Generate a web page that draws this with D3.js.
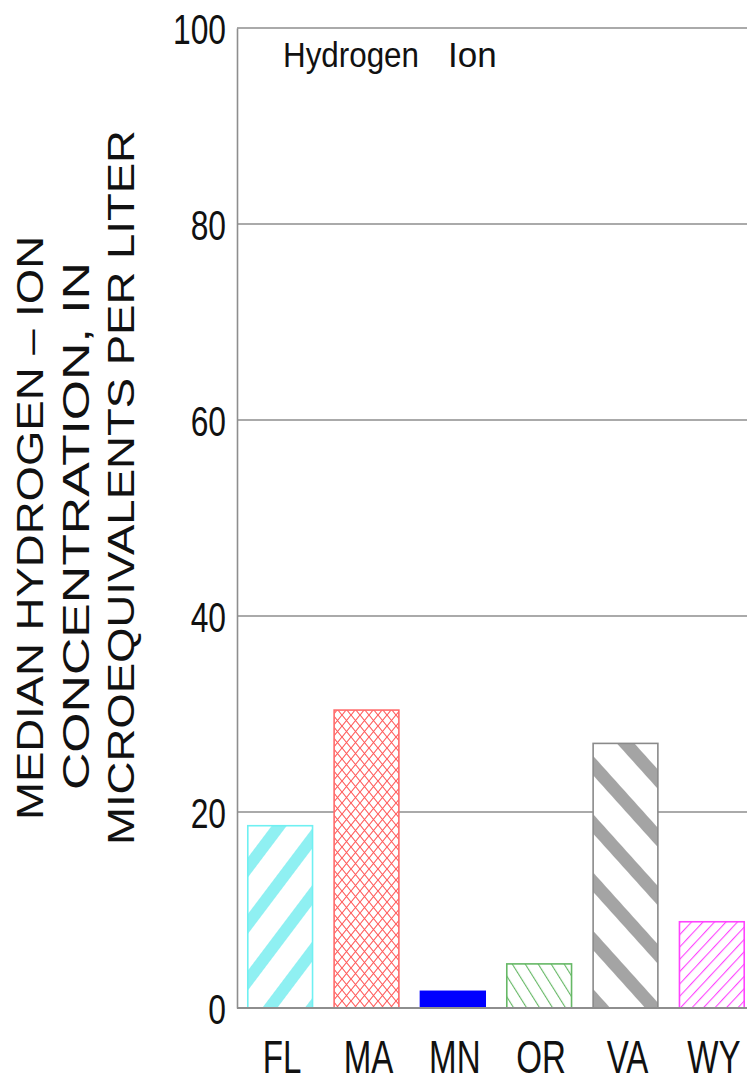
<!DOCTYPE html>
<html>
<head>
<meta charset="utf-8">
<script src="https://cdn.jsdelivr.net/npm/d3@7/dist/d3.min.js"></script>
<style>
  html, body { margin: 0; padding: 0; background: #fff; }
  svg { display: block; font-family: "Liberation Sans", Arial, Helvetica, sans-serif; }
</style>
</head>
<body>
<svg id="chart" width="747" height="1081"></svg>
<script>
// Median hydrogen-ion concentration by state
const categories = ["FL", "MA", "MN", "OR", "VA", "WY"];
const values = [18.6, 30.4, 1.7, 4.5, 27.0, 8.8];
const yTicks = [0, 20, 40, 60, 80, 100];
const panelTitle = "Hydrogen Ion";
const yTitleLines = ["MEDIAN HYDROGEN \u2013 ION", "CONCENTRATION, IN", "MICROEQUIVALENTS PER LITER"];

// bar fill styles, one per state
const barStyles = [
  { id: "pFL", stroke: "#6ff0f2", kind: "stripe", color: "#8ff0f2", angle: 37, period: 34, thick: 12 },
  { id: "pMA", stroke: "#ff6a6a", kind: "cross", color: "#ff5a5a", w: 9, h: 11 },
  { id: "pMN", stroke: "#0000ff", kind: "solid", color: "#0000ff" },
  { id: "pOR", stroke: "#66b866", kind: "line", color: "#66b866", angle: -32, period: 11, thick: 1.1 },
  { id: "pVA", stroke: "#8a8a8a", kind: "stripe", color: "#a4a4a4", angle: -42, period: 39, thick: 13 },
  { id: "pWY", stroke: "#ff44ff", kind: "line", color: "#ff44ff", angle: 43, period: 8.4, thick: 1.1 }
];

const W = 747, H = 1081;
const plot = { left: 237, right: 755, top: 28, bottom: 1008 };

const svg = d3.select("#chart");

const x = d3.scaleBand()
  .domain(categories)
  .range([plot.left, plot.right])
  .paddingInner(0.25)
  .paddingOuter(0.125);

const y = d3.scaleLinear()
  .domain([0, 100])
  .range([plot.bottom, plot.top]);

// ---- fill patterns ----
const defs = svg.append("defs");
barStyles.forEach(s => {
  if (s.kind === "solid") return;
  if (s.kind === "cross") {
    const p = defs.append("pattern")
      .attr("id", s.id)
      .attr("patternUnits", "userSpaceOnUse")
      .attr("width", s.w).attr("height", s.h);
    p.append("rect").attr("width", s.w).attr("height", s.h).attr("fill", "#fff");
    p.append("path")
      .attr("d", `M0,0L${s.w},${s.h}M0,${s.h}L${s.w},0`)
      .attr("stroke", s.color).attr("stroke-width", 1.1).attr("fill", "none");
    return;
  }
  const p = defs.append("pattern")
    .attr("id", s.id)
    .attr("patternUnits", "userSpaceOnUse")
    .attr("width", s.period).attr("height", s.period)
    .attr("patternTransform", `rotate(${s.angle})`);
  p.append("rect").attr("width", s.period).attr("height", s.period).attr("fill", "#fff");
  p.append("rect")
    .attr("x", 0).attr("y", 0)
    .attr("width", s.thick).attr("height", s.period)
    .attr("fill", s.color);
});

// ---- grid lines ----
svg.append("g")
  .selectAll("line")
  .data(yTicks.filter(t => t > 0))
  .join("line")
  .attr("x1", plot.left).attr("x2", W + 10)
  .attr("y1", d => y(d)).attr("y2", d => y(d))
  .attr("stroke", "#8e8e8e")
  .attr("stroke-width", 1.6);

// ---- bars ----
svg.append("g")
  .selectAll("rect")
  .data(categories)
  .join("rect")
  .attr("x", d => x(d))
  .attr("y", (d, i) => y(values[i]))
  .attr("width", x.bandwidth())
  .attr("height", (d, i) => y(0) - y(values[i]))
  .attr("fill", (d, i) => barStyles[i].kind === "solid" ? barStyles[i].color : `url(#${barStyles[i].id})`)
  .attr("stroke", (d, i) => barStyles[i].stroke)
  .attr("stroke-width", 1.6);

// ---- baseline ----
svg.append("line")
  .attr("x1", plot.left).attr("x2", W + 10)
  .attr("y1", y(0)).attr("y2", y(0))
  .attr("stroke", "#8e8e8e")
  .attr("stroke-width", 2);

// ---- y axis ----
const yAxis = svg.append("g")
  .attr("transform", `translate(${plot.left},0)`)
  .call(d3.axisLeft(y).tickValues(yTicks).tickSize(0).tickSizeOuter(0).tickPadding(0));
yAxis.select(".domain").attr("stroke", "#8e8e8e").attr("stroke-width", 1.6);
const tickSquash = 0.74;
yAxis.selectAll(".tick text")
  .attr("font-family", "Liberation Sans, Arial, sans-serif")
  .attr("font-size", 43)
  .attr("fill", "#111")
  .attr("x", -11 / tickSquash)
  .attr("dy", "0.36em")
  .attr("transform", `scale(${tickSquash},1)`);

// ---- category labels ----
const labelSquash = 0.72;
svg.append("g")
  .selectAll("g")
  .data(categories)
  .join("g")
  .attr("transform", d => `translate(${x(d) + x.bandwidth() / 2 + 2},1073)`)
  .append("text")
  .attr("transform", `scale(${labelSquash},1)`)
  .attr("text-anchor", "middle")
  .attr("font-size", 46)
  .attr("fill", "#111")
  .text(d => d);

// ---- panel title ----
const words = panelTitle.split(" ");
const title = svg.append("text")
  .attr("y", 67)
  .attr("font-size", 35)
  .attr("fill", "#111");
title.append("tspan").attr("x", 283)
  .attr("textLength", 136).attr("lengthAdjust", "spacingAndGlyphs")
  .text(words[0]);
title.append("tspan").attr("x", 448).text(words[1]);

// ---- y axis title (three rotated lines) ----
const yTitlePos = [
  { x: 43, y0: 820, y1: 236 },
  { x: 89, y0: 790, y1: 262 },
  { x: 134, y0: 845, y1: 130 }
];
svg.append("g")
  .selectAll("text")
  .data(yTitleLines)
  .join("text")
  .attr("transform", (d, i) => `translate(${yTitlePos[i].x},${yTitlePos[i].y0}) rotate(-90)`)
  .attr("text-anchor", "start")
  .attr("font-size", 37)
  .attr("fill", "#111")
  .attr("textLength", (d, i) => yTitlePos[i].y0 - yTitlePos[i].y1)
  .attr("lengthAdjust", "spacingAndGlyphs")
  .text(d => d);
</script>
</body>
</html>
